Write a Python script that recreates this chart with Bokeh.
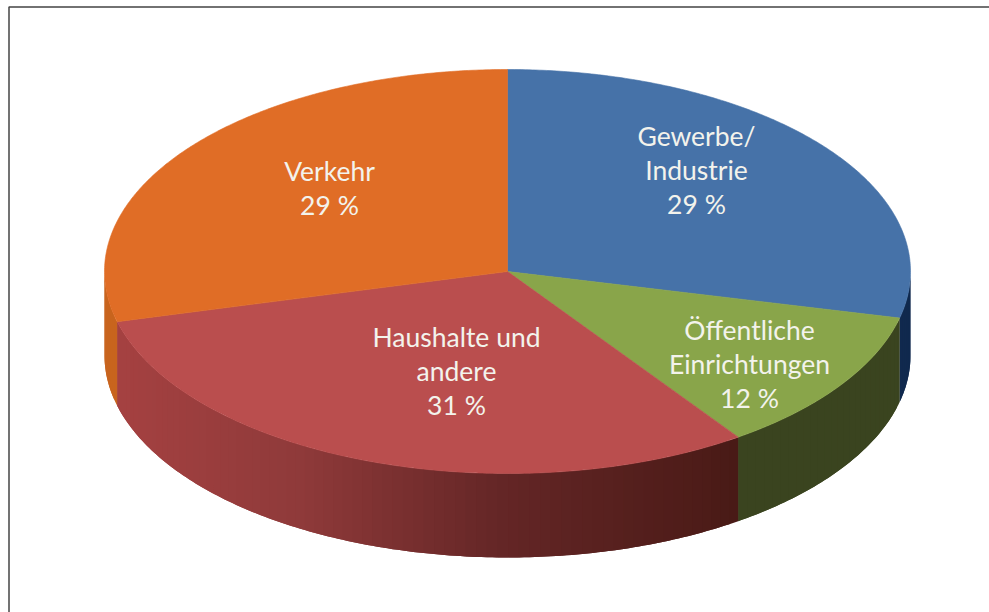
import math
from bokeh.plotting import figure
from bokeh.models import Range1d, ColumnDataSource
from bokeh.core.properties import value
from bokeh.embed import file_html
from bokeh.resources import INLINE

# --- data ---
categories = ["Gewerbe/ Industrie", "Öffentliche Einrichtungen", "Haushalte und andere", "Verkehr"]
shares = [28.7, 11.6, 30.7, 29.0]  # wedge sizes as measured; rounded values are in the labels
top_colors = ["#4672A8", "#89A54A", "#BA4E4E", "#E06D26"]
label_lines = [["Gewerbe/", "Industrie", "29 %"],
               ["Öffentliche", "Einrichtungen", "12 %"],
               ["Haushalte und", "andere", "31 %"],
               ["Verkehr", "29 %"]]

# --- geometry of the drawing, in picture pixels ---
CX, CY, RX, RY, DEPTH = 507, 271, 403, 202, 84
W, H = 989, 612
FRAME_X, FRAME_Y = 8.5, 6.5
label_anchor = [(696, 135), (749, 329), (456, 336), (329, 170)]
LINE_STEP = 34

side_stops = [
    [(104, "#10294E"), (911, "#10294E")],
    [(104, "#3A441F"), (911, "#3A441F")],
    [(115, "#A54141"), (300, "#8F3A3A"), (500, "#642626"), (737, "#491A16")],
    [(104, "#C8641E"), (911, "#C8641E")],
]


def rgb(h):
    return tuple(int(h[i:i + 2], 16) for i in (1, 3, 5))


def shade(stops, x):
    if x <= stops[0][0]:
        return stops[0][1]
    for (x0, c0), (x1, c1) in zip(stops, stops[1:]):
        if x <= x1:
            f = (x - x0) / (x1 - x0)
            a, b = rgb(c0), rgb(c1)
            return "#%02x%02x%02x" % tuple(round(a[i] + (b[i] - a[i]) * f) for i in range(3))
    return stops[-1][1]


def ex(t):
    return CX + RX * math.sin(t)


def ey(t):
    return CY - RY * math.cos(t)


total = sum(shares)
bounds = [0.0]
for s in shares:
    bounds.append(bounds[-1] + s / total * 2 * math.pi)

p = figure(width=W, height=H, output_backend="svg", toolbar_location=None,
           x_range=Range1d(0, W), y_range=Range1d(H, 0),
           min_border=0, background_fill_color="white",
           outline_line_color=None)
p.axis.visible = False
p.grid.visible = False

# frame: only the top and left edges fall inside the picture
p.line([FRAME_X, FRAME_X, W], [H, FRAME_Y, FRAME_Y], line_color="#444444", line_width=1.5)

# side wall: strips overlap the next one, so that no seams show
sx, sy, sc = [], [], []
lo_vis, hi_vis = math.pi / 2, 3 * math.pi / 2
for i in range(len(shares)):
    a = max(bounds[i], lo_vis)
    b = min(bounds[i + 1], hi_vis)
    if b <= a:
        continue
    n = max(2, int((b - a) / math.radians(1.5)))
    for k in range(n):
        t0 = a + (b - a) * k / n
        t1 = min(b, a + (b - a) * (k + 2) / n)
        tm = a + (b - a) * (k + 0.5) / n
        tt = [t0 + (t1 - t0) * q / 4 for q in range(5)]
        sx.append([ex(t) for t in tt] + [ex(t) for t in reversed(tt)])
        sy.append([ey(t) for t in tt] + [ey(t) + DEPTH for t in reversed(tt)])
        sc.append(shade(side_stops[i], ex(tm)))
p.patches(xs=sx, ys=sy, fill_color=sc, line_color=None)

# top face: one wedge per share
tx, ty = [], []
for i in range(len(shares)):
    a, b = bounds[i], bounds[i + 1]
    n = max(2, int((b - a) / math.radians(0.5)))
    ang = [a + (b - a) * k / n for k in range(n + 1)]
    tx.append([CX] + [ex(t) for t in ang])
    ty.append([CY] + [ey(t) for t in ang])
p.patches(xs=tx, ys=ty, fill_color=top_colors, line_color=top_colors, line_width=0.6)

# labels
lx, ly, lt = [], [], []
for (x0, y0), lines in zip(label_anchor, label_lines):
    for j, line in enumerate(lines):
        lx.append(x0)
        ly.append(y0 + j * LINE_STEP)
        lt.append(line)
p.text(x="x", y="y", text="t", source=ColumnDataSource(dict(x=lx, y=ly, t=lt)),
       text_font=value("Lato"), text_font_size="26.5px", text_color="#F3F3EC",
       text_align="center", text_baseline="middle")

open("out.html", "w").write(file_html(p, INLINE))
